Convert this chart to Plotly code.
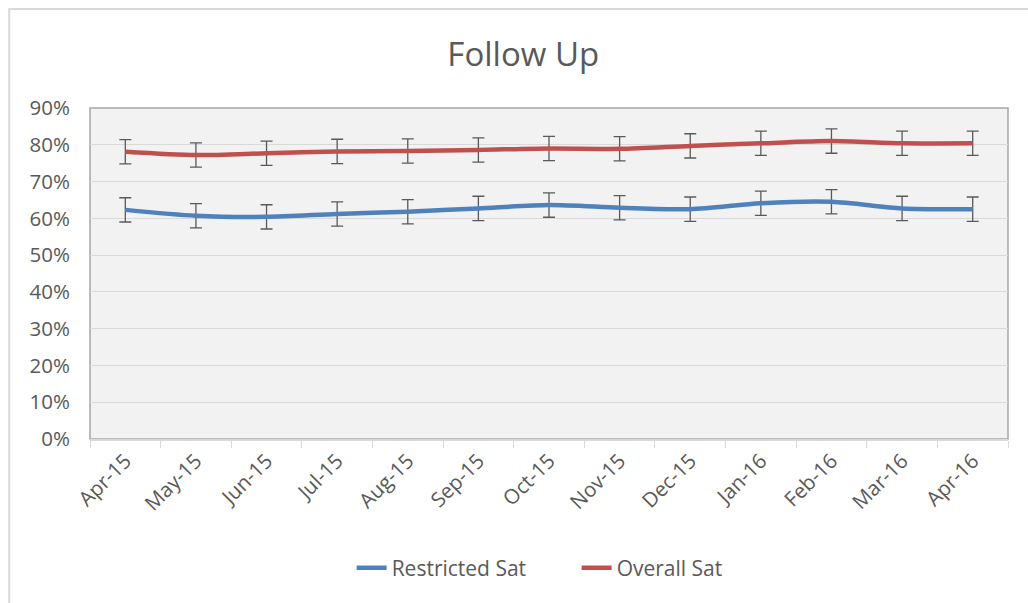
import plotly.graph_objects as go

# Monthly follow-up satisfaction
months = ["Apr-15", "May-15", "Jun-15", "Jul-15", "Aug-15", "Sep-15", "Oct-15",
          "Nov-15", "Dec-15", "Jan-16", "Feb-16", "Mar-16", "Apr-16"]
restricted_sat = [0.623, 0.607, 0.604, 0.612, 0.618, 0.627, 0.636,
                  0.629, 0.625, 0.641, 0.645, 0.627, 0.625]
overall_sat = [0.781, 0.772, 0.777, 0.782, 0.783, 0.786, 0.790,
               0.789, 0.797, 0.804, 0.810, 0.804, 0.804]
restricted_err = [0.033, 0.033, 0.033, 0.033, 0.033, 0.033, 0.033,
                  0.033, 0.033, 0.033, 0.033, 0.033, 0.033]
overall_err = [0.033, 0.033, 0.033, 0.033, 0.033, 0.033, 0.033,
               0.033, 0.033, 0.033, 0.033, 0.033, 0.033]

FONT = "Open Sans"
TEXT = "#595959"
GRID = "#d9d9d9"

fig = go.Figure()


def add_series(name, values, errors, color):
    fig.add_trace(go.Scatter(
        x=months, y=values, name=name, mode="lines",
        line=dict(color=color, width=4.5, shape="spline", smoothing=0.8),
        error_y=dict(type="data", array=errors, visible=True,
                     color="#595959", thickness=1.3, width=6),
    ))


add_series("Restricted Sat", restricted_sat, restricted_err, "#4f81bd")
add_series("Overall Sat", overall_sat, overall_err, "#c0504d")

fig.update_layout(
    width=1028, height=603,
    margin=dict(l=90, r=20, t=108, b=164),
    paper_bgcolor="white",
    plot_bgcolor="#f2f2f2",
    font=dict(family=FONT, color=TEXT, size=20),
    title=dict(text="Follow Up", x=0.509, xanchor="center", y=0.91, yanchor="middle",
               font=dict(family=FONT, size=33, color=TEXT)),
    legend=dict(orientation="h", x=0.285, xanchor="left", y=-0.39, yanchor="middle",
                entrywidth=180, entrywidthmode="pixels",
                font=dict(size=21, color=TEXT), bgcolor="rgba(0,0,0,0)"),
    showlegend=True,
    shapes=[
        # plot area frame
        dict(type="rect", xref="paper", yref="paper", x0=0, x1=1, y0=0, y1=1,
             line=dict(color="#a6a6a6", width=1.5), layer="below"),
        # chart area border (left and top edges visible)
        dict(type="rect", xref="paper", yref="paper", x0=-0.088, x1=1.2, y0=-0.7, y1=1.299,
             line=dict(color="#d9d9d9", width=2), layer="below"),
    ],
)

fig.update_xaxes(
    type="category", range=[-0.5, 12.5],
    showgrid=False, zeroline=False,
    showline=True, linecolor=GRID, linewidth=1.5,
    ticks="outside", tickson="boundaries", ticklen=7, tickcolor=GRID,
    tickangle=-45, tickfont=dict(size=20.5, color=TEXT),
)
fig.update_yaxes(
    range=[0, 0.9], dtick=0.1, tickformat=".0%",
    showgrid=True, gridcolor=GRID, gridwidth=1.2,
    zeroline=False, showline=False, ticks="",
    ticklabelstandoff=19, tickfont=dict(size=20.5, color=TEXT),
)

fig.write_html("out.html")
